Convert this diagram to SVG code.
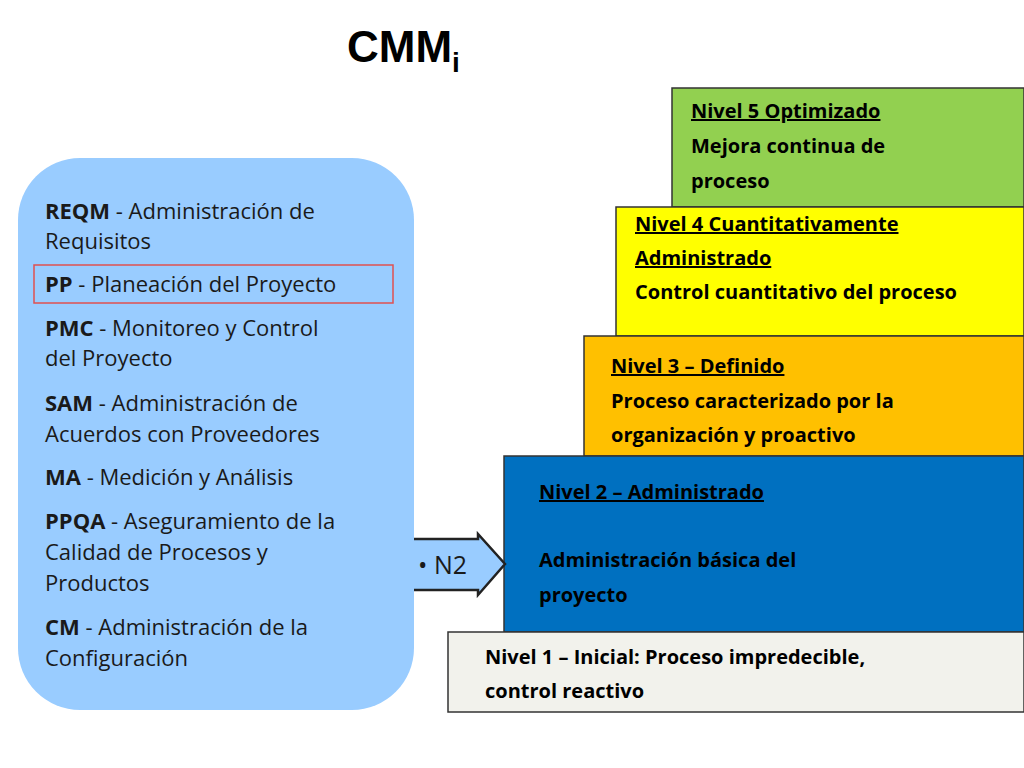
<svg xmlns="http://www.w3.org/2000/svg" width="1024" height="768" viewBox="0 0 1024 768">
<style>
.l{font-family:"Open Sans","Liberation Sans",sans-serif;font-size:22px;fill:#1a1a1a}
.r{font-family:"Open Sans","Liberation Sans",sans-serif;font-size:20px;font-weight:bold;fill:#000}
.box{stroke:#333;stroke-width:1.5}
</style>
<rect width="1024" height="768" fill="#fff"/>
<text x="347" y="62" font-family="Liberation Sans,Arial,sans-serif" font-weight="bold" font-size="44" fill="#000">CMM<tspan font-size="28" dy="10">i</tspan></text>
<g id="left">
<rect x="18" y="158" width="396" height="552" rx="62" fill="#99ccff"/>
<rect x="34" y="265" width="359" height="38" fill="none" stroke="#e05050" stroke-width="1.5"/>
<text class="l" x="45" y="219"><tspan font-weight="bold">REQM</tspan> - Administración de</text>
<text class="l" x="45" y="249">Requisitos</text>
<text class="l" x="45" y="292"><tspan font-weight="bold">PP</tspan> - Planeación del Proyecto</text>
<text class="l" x="45" y="336"><tspan font-weight="bold">PMC</tspan> - Monitoreo y Control</text>
<text class="l" x="45" y="366">del Proyecto</text>
<text class="l" x="45" y="411"><tspan font-weight="bold">SAM</tspan> - Administración de</text>
<text class="l" x="45" y="442">Acuerdos con Proveedores</text>
<text class="l" x="45" y="485"><tspan font-weight="bold">MA</tspan> - Medición y Análisis</text>
<text class="l" x="45" y="529"><tspan font-weight="bold">PPQA</tspan> - Aseguramiento de la</text>
<text class="l" x="45" y="560">Calidad de Procesos y</text>
<text class="l" x="45" y="591">Productos</text>
<text class="l" x="45" y="635"><tspan font-weight="bold">CM</tspan> - Administración de la</text>
<text class="l" x="45" y="666">Configuración</text>
</g>
<g id="n5"><rect class="box" x="672" y="88" width="352" height="119" fill="#92d050"/>
<text class="r" x="691" y="118" text-decoration="underline">Nivel 5 Optimizado</text>
<text class="r" x="691" y="153">Mejora continua de</text>
<text class="r" x="691" y="188">proceso</text></g>
<g id="n4"><rect class="box" x="616" y="207" width="408" height="129" fill="#ffff00"/>
<text class="r" x="635" y="231" text-decoration="underline">Nivel 4 Cuantitativamente</text>
<text class="r" x="635" y="265" text-decoration="underline">Administrado</text>
<text class="r" x="635" y="299">Control cuantitativo del proceso</text></g>
<g id="n3"><rect class="box" x="584" y="336" width="440" height="120" fill="#ffc000"/>
<text class="r" x="611" y="373" text-decoration="underline">Nivel 3 – Definido</text>
<text class="r" x="611" y="408">Proceso caracterizado por la</text>
<text class="r" x="611" y="442">organización y proactivo</text></g>
<g id="n2"><rect class="box" x="504" y="456" width="520" height="176" fill="#0070c0"/>
<text class="r" x="539" y="499" text-decoration="underline">Nivel 2 – Administrado</text>
<text class="r" x="539" y="567">Administración básica del</text>
<text class="r" x="539" y="602">proyecto</text></g>
<g id="n1"><rect class="box" x="448" y="632" width="576" height="80" fill="#f2f2ec"/>
<text class="r" x="485" y="664">Nivel 1 – Inicial: Proceso impredecible,</text>
<text class="r" x="485" y="698">control reactivo</text></g>
<g id="connectors">
<path d="M414,539 H478 V534 L505,564 L478,595 V590 H414" fill="#99ccff" stroke="#222" stroke-width="2.5"/>
<text x="418" y="574" font-family="Open Sans,Liberation Sans,sans-serif" font-size="25" fill="#1a1a1a">• N2</text>
</g>
</svg>
